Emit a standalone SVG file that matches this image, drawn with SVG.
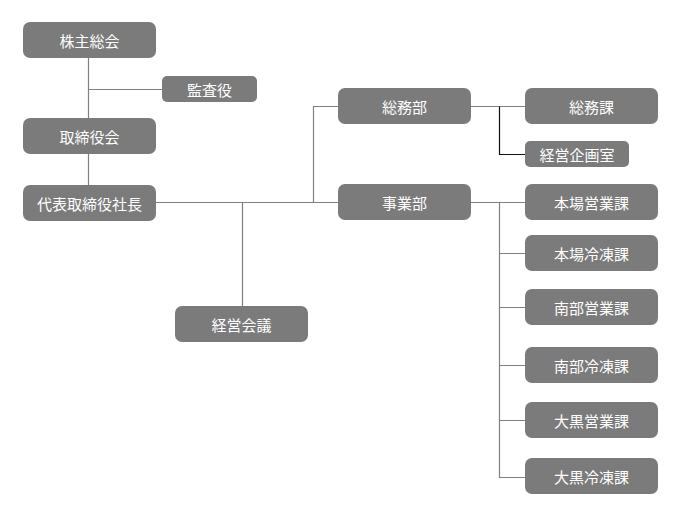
<svg xmlns="http://www.w3.org/2000/svg" width="700" height="524" viewBox="0 0 700 524">
<style>
.box{fill:#7b7b7b}
.t{fill:#ffffff;font-family:"Noto Sans CJK JP","Noto Sans",sans-serif;font-size:15px;text-anchor:middle;dominant-baseline:central}
.ln{stroke:#808080;stroke-width:1.2;fill:none}
.dk{stroke:#111111;stroke-width:1.2;fill:none}
</style>
<rect width="700" height="524" fill="#ffffff"/>
<g id="connectors">
<path class="ln" d="M88.5 58V118M88.5 89.5H162M88.5 154V185"/>
<path class="ln" d="M156 202.5H338M313.5 202.5V106.5H338M242.5 202.5V306"/>
<path class="ln" d="M471 106.5H525"/>
<path class="dk" d="M499.5 106.5V154.5H525"/>
<path class="ln" d="M471 202.5H525M499.5 202.5V477.5H525M499.5 253.5H525M499.5 307.5H525M499.5 365.5H525M499.5 420.5H525"/>
</g>
<g id="n1"><rect class="box" x="23" y="22" width="133" height="36" rx="7"/><text class="t" x="89.5" y="40">株主総会</text></g>
<g id="n2"><rect class="box" x="162" y="76" width="95" height="26" rx="5"/><text class="t" x="209.5" y="89">監査役</text></g>
<g id="n3"><rect class="box" x="23" y="118" width="133" height="36" rx="7"/><text class="t" x="89.5" y="136">取締役会</text></g>
<g id="n4"><rect class="box" x="23" y="185" width="133" height="36" rx="7"/><text class="t" x="89.5" y="203">代表取締役社長</text></g>
<g id="n5"><rect class="box" x="175" y="306" width="133" height="36" rx="7"/><text class="t" x="241.5" y="324">経営会議</text></g>
<g id="n6"><rect class="box" x="338" y="88" width="133" height="36" rx="7"/><text class="t" x="404.5" y="106">総務部</text></g>
<g id="n7"><rect class="box" x="338" y="184" width="133" height="36" rx="7"/><text class="t" x="404.5" y="202">事業部</text></g>
<g id="n8"><rect class="box" x="525" y="88" width="133" height="36" rx="7"/><text class="t" x="591.5" y="106">総務課</text></g>
<g id="n9"><rect class="box" x="525" y="141" width="104" height="26" rx="5"/><text class="t" x="577" y="154">経営企画室</text></g>
<g id="n10"><rect class="box" x="525" y="184" width="133" height="36" rx="7"/><text class="t" x="591.5" y="202">本場営業課</text></g>
<g id="n11"><rect class="box" x="525" y="235" width="133" height="36" rx="7"/><text class="t" x="591.5" y="253">本場冷凍課</text></g>
<g id="n12"><rect class="box" x="525" y="289" width="133" height="36" rx="7"/><text class="t" x="591.5" y="307">南部営業課</text></g>
<g id="n13"><rect class="box" x="525" y="347" width="133" height="36" rx="7"/><text class="t" x="591.5" y="365">南部冷凍課</text></g>
<g id="n14"><rect class="box" x="525" y="402" width="133" height="36" rx="7"/><text class="t" x="591.5" y="420">大黒営業課</text></g>
<g id="n15"><rect class="box" x="525" y="458" width="133" height="36" rx="7"/><text class="t" x="591.5" y="476">大黒冷凍課</text></g>
</svg>
